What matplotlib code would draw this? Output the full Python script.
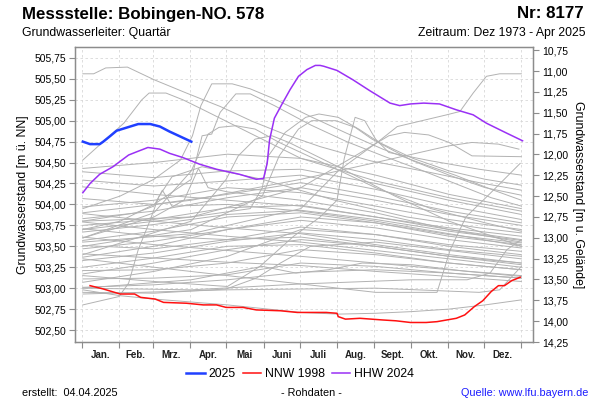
import matplotlib
matplotlib.use("Agg")
import matplotlib.pyplot as plt
from matplotlib.ticker import FuncFormatter

plt.rcParams['font.family'] = ['Liberation Sans', 'DejaVu Sans']

# --- data (day of year, m ü. NN) ---
months = ["Jan.", "Feb.", "Mrz.", "Apr.", "Mai", "Juni", "Juli", "Aug.", "Sept.", "Okt.", "Nov.", "Dez."]
month_starts = [0, 31, 59, 90, 120, 151, 181, 212, 243, 273, 304, 334, 365]

y_ticks = [502.50, 502.75, 503.00, 503.25, 503.50, 503.75, 504.00, 504.25,
           504.50, 504.75, 505.00, 505.25, 505.50, 505.75]
depth_ticks = [10.75, 11.00, 11.25, 11.50, 11.75, 12.00, 12.25, 12.50,
               12.75, 13.00, 13.25, 13.50, 13.75, 14.00, 14.25]
ground_level = 516.59

# 2025 (so far)
y2025_days = [1, 7, 15, 18, 24, 29, 38, 47, 57, 65, 73, 82, 91]
y2025_vals = [504.75, 504.72, 504.72, 504.75, 504.82, 504.88, 504.92, 504.96,
              504.96, 504.93, 504.87, 504.81, 504.75]

# NNW 1998
nnw_days = [7, 18, 32, 44, 49, 61, 68, 87, 101, 112, 120, 134, 145, 165, 179, 203,
            212, 213, 219, 231, 250, 261, 273, 286, 295, 303, 311, 318, 326, 333,
            340, 346, 351, 357, 364]
nnw_vals = [503.03, 502.99, 502.93, 502.93, 502.89, 502.87, 502.83, 502.82, 502.80,
            502.80, 502.77, 502.77, 502.74, 502.73, 502.71, 502.71, 502.70, 502.66,
            502.63, 502.64, 502.62, 502.61, 502.59, 502.59, 502.60, 502.62, 502.64,
            502.68, 502.78, 502.85, 502.96, 503.03, 503.03, 503.09, 503.13]

# HHW 2024
hhw_days = [1, 7, 15, 26, 39, 46, 55, 65, 73, 84, 98, 112, 131, 145, 151, 154, 156,
            160, 166, 173, 180, 187, 194, 198, 201, 212, 225, 239, 256, 264, 273,
            284, 297, 311, 325, 336, 353, 366]
hhw_vals = [504.14, 504.25, 504.36, 504.45, 504.59, 504.63, 504.68, 504.66, 504.61,
            504.56, 504.48, 504.42, 504.36, 504.30, 504.31, 504.49, 504.77, 505.03,
            505.19, 505.37, 505.53, 505.61, 505.66, 505.66, 505.65, 505.60, 505.49,
            505.36, 505.21, 505.18, 505.20, 505.21, 505.20, 505.13, 505.07, 504.97,
            504.85, 504.76]

# other years: ordinary lines sampled at a few days
gray_days = [1, 60, 121, 182, 244, 305, 365]
gray_jan = [504.43, 504.39, 504.29, 504.21, 504.07, 503.97, 503.89, 503.83, 503.79,
            503.75, 503.71, 503.67, 503.61, 503.57, 503.51, 503.47, 503.41, 503.37,
            503.33, 503.25, 503.21, 503.17, 503.11, 503.07, 503.01]
gray_mar = [504.50, 504.32, 504.22, 504.12, 504.00, 504.05, 503.80, 503.92, 503.70,
            503.82, 503.62, 503.76, 503.52, 503.68, 503.47, 503.56, 503.36, 503.50,
            503.42, 503.36, 503.22, 503.30, 503.12, 503.20, 503.04]
gray_may = [504.60, 504.40, 504.28, 504.05, 504.12, 504.20, 503.72, 504.08, 503.62,
            503.96, 503.58, 503.88, 503.45, 503.85, 503.58, 503.70, 503.31, 503.70,
            503.56, 503.50, 503.30, 503.46, 503.16, 503.38, 503.10]
gray_jul = [504.55, 504.42, 504.35, 503.98, 504.26, 504.14, 503.65, 504.20, 503.55,
            503.99, 503.61, 503.93, 503.38, 503.90, 503.73, 503.81, 503.27, 503.85,
            503.66, 503.52, 503.46, 503.58, 503.30, 503.70, 503.19]
gray_sep = [504.35, 504.25, 504.18, 503.85, 504.10, 503.98, 503.52, 504.05, 503.45,
            503.85, 503.50, 503.82, 503.30, 503.78, 503.64, 503.72, 503.20, 503.78,
            503.58, 503.42, 503.40, 503.50, 503.26, 503.64, 503.22]
gray_nov = [504.12, 504.05, 503.98, 503.72, 503.92, 503.82, 503.40, 503.88, 503.35,
            503.70, 503.38, 503.68, 503.22, 503.62, 503.52, 503.58, 503.14, 503.64,
            503.46, 503.30, 503.30, 503.38, 503.18, 503.50, 503.18]
gray_dec = [503.95, 503.88, 503.82, 503.62, 503.78, 503.70, 503.30, 503.75, 503.25,
            503.58, 503.28, 503.57, 503.15, 503.52, 503.44, 503.48, 503.08, 503.54,
            503.38, 503.22, 503.22, 503.30, 503.12, 503.40, 503.12]

# other years with a distinct course
top_days = [1, 10, 20, 38, 60, 87, 115, 142, 170, 198, 240, 290, 330, 365]
top_vals = [505.56, 505.56, 505.63, 505.64, 505.49, 505.33, 505.17, 504.99, 504.83,
            504.69, 504.52, 504.38, 504.26, 504.17]
feb_days = [1, 18, 35, 50, 56, 70, 84, 101, 140, 182, 244, 305, 365]
feb_vals = [504.53, 504.75, 504.97, 505.25, 505.33, 505.33, 505.25, 505.13, 504.85,
            504.55, 504.28, 504.08, 503.92]
apr1_days = [1, 32, 60, 82, 92, 99, 108, 125, 140, 160, 190, 220, 250, 280, 310, 340, 365]
apr1_vals = [503.95, 504.10, 504.30, 504.53, 504.82, 505.18, 505.44, 505.44, 505.38,
             505.26, 505.05, 504.85, 504.66, 504.50, 504.35, 504.18, 504.05]
apr2_days = [1, 32, 60, 91, 100, 108, 115, 128, 140, 160, 190, 220, 250, 280, 310, 340, 365]
apr2_vals = [503.70, 503.80, 504.00, 504.30, 504.82, 504.84, 505.10, 505.32, 505.32,
             505.18, 504.95, 504.75, 504.58, 504.42, 504.25, 504.08, 503.98]
apr3_days = [1, 60, 91, 105, 114, 128, 144, 164, 200, 244, 290, 335, 365]
apr3_vals = [503.60, 503.90, 504.40, 504.84, 504.92, 504.94, 504.90, 504.74, 504.50,
             504.20, 503.95, 503.78, 503.68]
may_days = [1, 91, 120, 130, 144, 158, 172, 213, 260, 305, 365]
may_vals = [503.40, 503.80, 504.30, 504.58, 504.78, 504.82, 504.74, 504.45, 504.10,
            503.80, 503.50]
jun1_days = [1, 91, 140, 150, 155, 169, 186, 197, 213, 230, 247, 275, 305, 335, 365]
jun1_vals = [503.70, 503.85, 503.95, 504.20, 504.58, 504.86, 505.04, 505.08, 505.04,
             504.90, 504.74, 504.55, 504.40, 504.30, 504.23]
jun2_days = [1, 91, 150, 164, 180, 191, 211, 227, 241, 275, 305, 335, 365]
jun2_vals = [503.50, 503.70, 504.10, 504.58, 504.90, 505.00, 505.00, 504.92, 504.78,
             504.52, 504.35, 504.20, 504.11]
aug_days = [1, 60, 121, 148, 176, 198, 212, 218, 227, 235, 244, 255, 290, 330, 365]
aug_vals = [503.15, 503.08, 503.02, 503.26, 503.62, 503.85, 504.05, 504.55, 505.04,
            505.00, 504.78, 504.62, 504.52, 504.42, 504.35]
autumn_days = [1, 91, 182, 213, 248, 262, 303, 314, 325, 336, 347, 365]
autumn_vals = [503.55, 503.65, 503.95, 504.40, 504.77, 504.93, 505.07, 505.11, 505.33,
               505.53, 505.56, 505.56]
sep_days = [1, 91, 182, 227, 255, 268, 288, 305, 324, 365]
sep_vals = [503.80, 503.85, 504.20, 504.58, 504.82, 504.86, 504.83, 504.74, 504.58, 504.57]
nov_days = [1, 91, 182, 244, 305, 324, 346, 363]
nov_vals = [503.90, 504.05, 504.30, 504.50, 504.70, 504.74, 504.72, 504.66]
late1_days = [1, 60, 121, 182, 244, 295, 306, 319, 339, 364]
late1_vals = [503.35, 503.25, 503.15, 503.05, 502.95, 502.95, 503.46, 503.85, 504.13, 504.49]
late2_days = [1, 91, 182, 274, 320, 339, 353, 365]
late2_vals = [503.00, 502.98, 503.05, 503.10, 503.10, 503.18, 503.46, 503.58]
late3_days = [1, 121, 244, 330, 347, 365]
late3_vals = [502.93, 502.98, 503.00, 502.95, 502.98, 503.26]
low_days = [1, 32, 60, 121, 182, 213, 244, 274, 305, 335, 365]
low_vals = [502.98, 502.91, 502.87, 502.80, 502.71, 502.69, 502.70, 502.72, 502.75,
            502.80, 502.86]
dip_days = [1, 91, 150, 178, 205, 233, 274, 320, 365]
dip_vals = [503.00, 503.10, 503.26, 503.18, 503.22, 503.30, 503.28, 503.20, 503.14]
rise_days = [1, 60, 120, 145, 165, 190, 244, 305, 365]
rise_vals = [502.95, 502.94, 502.99, 503.12, 503.30, 503.50, 503.55, 503.45, 503.35]
riser_days = [1, 31, 39, 47, 56, 64, 75, 100, 150, 210, 270, 330, 365]
riser_vals = [502.80, 502.90, 503.06, 503.46, 503.78, 504.09, 504.33, 504.45, 504.30,
              504.05, 503.85, 503.72, 503.66]
spike1_days = [1, 45, 60, 67, 75, 121, 182, 244, 305, 365]
spike1_vals = [503.80, 503.90, 503.98, 504.17, 503.98, 504.00, 503.92, 503.80, 503.65, 503.50]
spike2_days = [1, 60, 85, 97, 105, 121, 182, 244, 305, 365]
spike2_vals = [503.60, 503.85, 504.05, 504.43, 504.20, 504.15, 504.05, 503.90, 503.70, 503.55]

special = [(top_days, top_vals), (feb_days, feb_vals), (apr1_days, apr1_vals),
           (apr2_days, apr2_vals), (apr3_days, apr3_vals), (may_days, may_vals),
           (jun1_days, jun1_vals), (jun2_days, jun2_vals), (aug_days, aug_vals),
           (autumn_days, autumn_vals), (sep_days, sep_vals), (nov_days, nov_vals),
           (late1_days, late1_vals), (late2_days, late2_vals), (late3_days, late3_vals),
           (low_days, low_vals), (dip_days, dip_vals), (rise_days, rise_vals),
           (riser_days, riser_vals), (spike1_days, spike1_vals), (spike2_days, spike2_vals)]

GRAY = '#b2b2b2'
AXC = '#8c8c8c'

fig = plt.figure(figsize=(6, 4), dpi=100)
ax = fig.add_axes([0.125, 0.145, 0.763, 0.7375])

for vals in zip(gray_jan, gray_mar, gray_may, gray_jul, gray_sep, gray_nov, gray_dec):
    ax.plot(gray_days, vals, color=GRAY, lw=0.7, zorder=2)
for d, v in special:
    ax.plot(d, v, color=GRAY, lw=0.7, zorder=2)

ax.plot(nnw_days, nnw_vals, color='#ff1010', lw=1.1, zorder=4, label='NNW 1998')
ax.plot(hhw_days, hhw_vals, color='#9a30f5', lw=1.1, zorder=4, label='HHW 2024')
ax.plot(y2025_days, y2025_vals, color='#2040ff', lw=1.8, zorder=5, label='2025')

ax.set_xlim(-5.5, 374.5)
ax.set_ylim(502.357, 505.88)

ax.set_xticks(month_starts)
ax.set_xticklabels([])
mids = [(a + b) / 2 for a, b in zip(month_starts[:-1], month_starts[1:])]
ax.set_xticks(mids, minor=True)
ax.set_xticklabels(months, minor=True, fontsize=7, fontweight='bold', color='#222222')
ax.tick_params(axis='x', which='minor', length=0, pad=6)
ax.tick_params(axis='x', which='major', length=4, color=AXC, direction='out')

ax.set_yticks(y_ticks)
ax.yaxis.set_major_formatter(FuncFormatter(lambda v, p: f"{v:.2f}".replace('.', ',')))
ax.tick_params(axis='y', length=4, color=AXC, labelsize=7.5, pad=2)

ax.grid(True, which='major', color='#d8d8d8', lw=0.6, linestyle=(0, (3, 3)), zorder=0)
for s in ax.spines.values():
    s.set_color(AXC)
    s.set_linewidth(1.0)
ax.set_ylabel('Grundwasserstand [m ü. NN]', fontsize=8.8, labelpad=4)

ax2 = ax.twinx()
ax2.set_ylim(ground_level - 502.357, ground_level - 505.88)
ax2.set_yticks(depth_ticks)
ax2.yaxis.set_major_formatter(FuncFormatter(lambda v, p: f"{v:.2f}".replace('.', ',')))
ax2.tick_params(axis='y', length=4, color=AXC, labelsize=7.5, pad=3)
for s in ax2.spines.values():
    s.set_color(AXC)
ax2.set_ylabel('Grundwasserstand [m u. Gelände]', fontsize=8.8, rotation=270, labelpad=11)

# header
fig.text(22 / 600, 1 - 14 / 400, 'Messstelle: Bobingen-NO. 578', fontsize=12.2,
         fontweight='bold', ha='left', va='center')
fig.text(584 / 600, 1 - 14 / 400, 'Nr: 8177', fontsize=12.2, fontweight='bold',
         ha='right', va='center')
fig.text(22 / 600, 1 - 33 / 400, 'Grundwasserleiter: Quartär', fontsize=8.8,
         ha='left', va='center')
fig.text(586 / 600, 1 - 33 / 400, 'Zeitraum: Dez 1973 - Apr 2025', fontsize=8.8,
         ha='right', va='center')

# legend
h, l = ax.get_legend_handles_labels()
order = [2, 0, 1]
fig.legend([h[i] for i in order], [l[i] for i in order], loc='center',
           bbox_to_anchor=(300 / 600, 1 - 374 / 400), ncol=3, frameon=False,
           fontsize=8.8, handlelength=1.5, handletextpad=0.3, columnspacing=0.6)

# footer
fig.text(22 / 600, 1 - 393 / 400, 'erstellt:  04.04.2025', fontsize=7.8,
         ha='left', va='center')
fig.text(311 / 600, 1 - 393 / 400, '- Rohdaten -', fontsize=7.8, ha='center', va='center')
fig.text(588 / 600, 1 - 393 / 400, 'Quelle: www.lfu.bayern.de', fontsize=7.8,
         color='#1a1aff', ha='right', va='center')

fig.savefig('out.png', dpi=100)
